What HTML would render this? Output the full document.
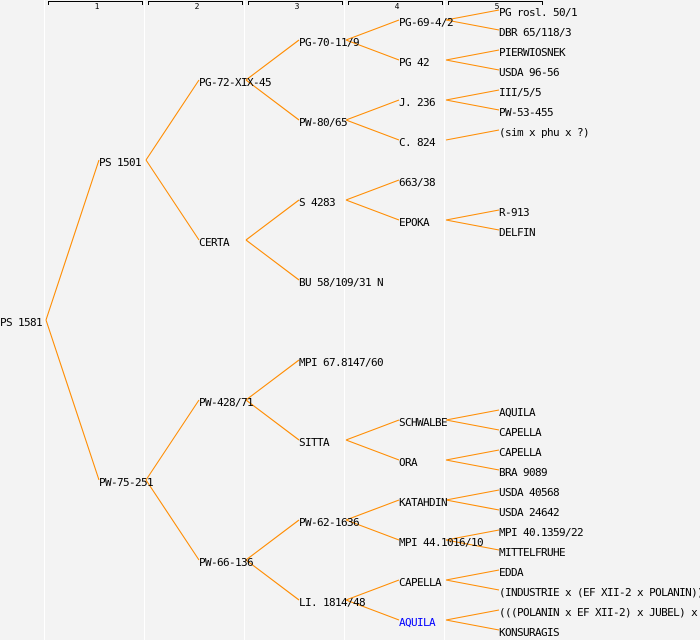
<!DOCTYPE html>
<html><head><meta charset="utf-8"><style>
html,body{margin:0;padding:0;background:#f3f3f3;}
svg{display:block;}
text{font-family:"DejaVu Sans Mono","Liberation Mono",monospace;font-size:11px;letter-spacing:-0.62px;fill:#000;}
.h{font-size:8px;letter-spacing:0;}
</style></head><body>
<svg width="700" height="640" xmlns="http://www.w3.org/2000/svg">
<rect width="700" height="640" fill="#f3f3f3"/>
<g stroke="#ffffff" stroke-width="1">
<line x1="44.5" y1="0" x2="44.5" y2="640"/><line x1="144.5" y1="0" x2="144.5" y2="640"/>
<line x1="244.5" y1="0" x2="244.5" y2="640"/><line x1="344.5" y1="0" x2="344.5" y2="640"/>
<line x1="444.5" y1="0" x2="444.5" y2="640"/>
</g>
<g stroke="#000" stroke-width="1" fill="none">
<path d="M48.5 5V1.5H142.5V5"/><path d="M148.5 5V1.5H242.5V5"/><path d="M248.5 5V1.5H342.5V5"/>
<path d="M348.5 5V1.5H442.5V5"/><path d="M448.5 5V1.5H542.5V5"/>
</g>
<text class="h" x="97" y="9" text-anchor="middle">1</text>
<text class="h" x="197" y="9" text-anchor="middle">2</text>
<text class="h" x="297" y="9" text-anchor="middle">3</text>
<text class="h" x="397" y="9" text-anchor="middle">4</text>
<text class="h" x="497" y="9" text-anchor="middle">5</text>
<g stroke="#ff8c00" stroke-width="1.1" fill="none">
<path d="M46 320L99 160M46 320L99 480"/>
<path d="M146 160L199 80M146 160L199 240M146 480L199 400M146 480L199 560"/>
<path d="M246 80L299 40M246 80L299 120M246 240L299 200M246 240L299 280M246 400L299 360M246 400L299 440M246 560L299 520M246 560L299 600"/>
<path d="M346 40L399 20M346 40L399 60M346 120L399 100M346 120L399 140M346 200L399 180M346 200L399 220M346 440L399 420M346 440L399 460M346 520L399 500M346 520L399 540M346 600L399 580M346 600L399 620"/>
<path d="M446 20L499 10M446 20L499 30M446 60L499 50M446 60L499 70M446 100L499 90M446 100L499 110M446 140L499 130M446 220L499 210M446 220L499 230M446 420L499 410M446 420L499 430M446 460L499 450M446 460L499 470M446 500L499 490M446 500L499 510M446 540L499 530M446 540L499 550M446 580L499 570M446 580L499 590M446 620L499 610M446 620L499 630"/>
</g>
<text x="0" y="326">PS 1581</text>
<text x="99" y="166">PS 1501</text>
<text x="99" y="486">PW-75-251</text>
<text x="199" y="86">PG-72-XIX-45</text>
<text x="199" y="246">CERTA</text>
<text x="199" y="406">PW-428/71</text>
<text x="199" y="566">PW-66-136</text>
<text x="299" y="46">PG-70-11/9</text>
<text x="299" y="126">PW-80/65</text>
<text x="299" y="206">S 4283</text>
<text x="299" y="286">BU 58/109/31 N</text>
<text x="299" y="366">MPI 67.8147/60</text>
<text x="299" y="446">SITTA</text>
<text x="299" y="526">PW-62-1636</text>
<text x="299" y="606">LI. 1814/48</text>
<text x="399" y="26">PG-69-4/2</text>
<text x="399" y="66">PG 42</text>
<text x="399" y="106">J. 236</text>
<text x="399" y="146">C. 824</text>
<text x="399" y="186">663/38</text>
<text x="399" y="226">EPOKA</text>
<text x="399" y="426">SCHWALBE</text>
<text x="399" y="466">ORA</text>
<text x="399" y="506">KATAHDIN</text>
<text x="399" y="546">MPI 44.1016/10</text>
<text x="399" y="586">CAPELLA</text>
<text x="399" y="626" style="fill:#0000ff">AQUILA</text>
<text x="499" y="16">PG rosl. 50/1</text>
<text x="499" y="36">DBR 65/118/3</text>
<text x="499" y="56">PIERWIOSNEK</text>
<text x="499" y="76">USDA 96-56</text>
<text x="499" y="96">III/5/5</text>
<text x="499" y="116">PW-53-455</text>
<text x="499" y="136">(sim x phu x ?)</text>
<text x="499" y="216">R-913</text>
<text x="499" y="236">DELFIN</text>
<text x="499" y="416">AQUILA</text>
<text x="499" y="436">CAPELLA</text>
<text x="499" y="456">CAPELLA</text>
<text x="499" y="476">BRA 9089</text>
<text x="499" y="496">USDA 40568</text>
<text x="499" y="516">USDA 24642</text>
<text x="499" y="536">MPI 40.1359/22</text>
<text x="499" y="556">MITTELFRUHE</text>
<text x="499" y="576">EDDA</text>
<text x="499" y="596">(INDUSTRIE x (EF XII-2 x POLANIN))</text>
<text x="499" y="616">(((POLANIN x EF XII-2) x JUBEL) x</text>
<text x="499" y="636">KONSURAGIS</text>
</svg>
</body></html>
